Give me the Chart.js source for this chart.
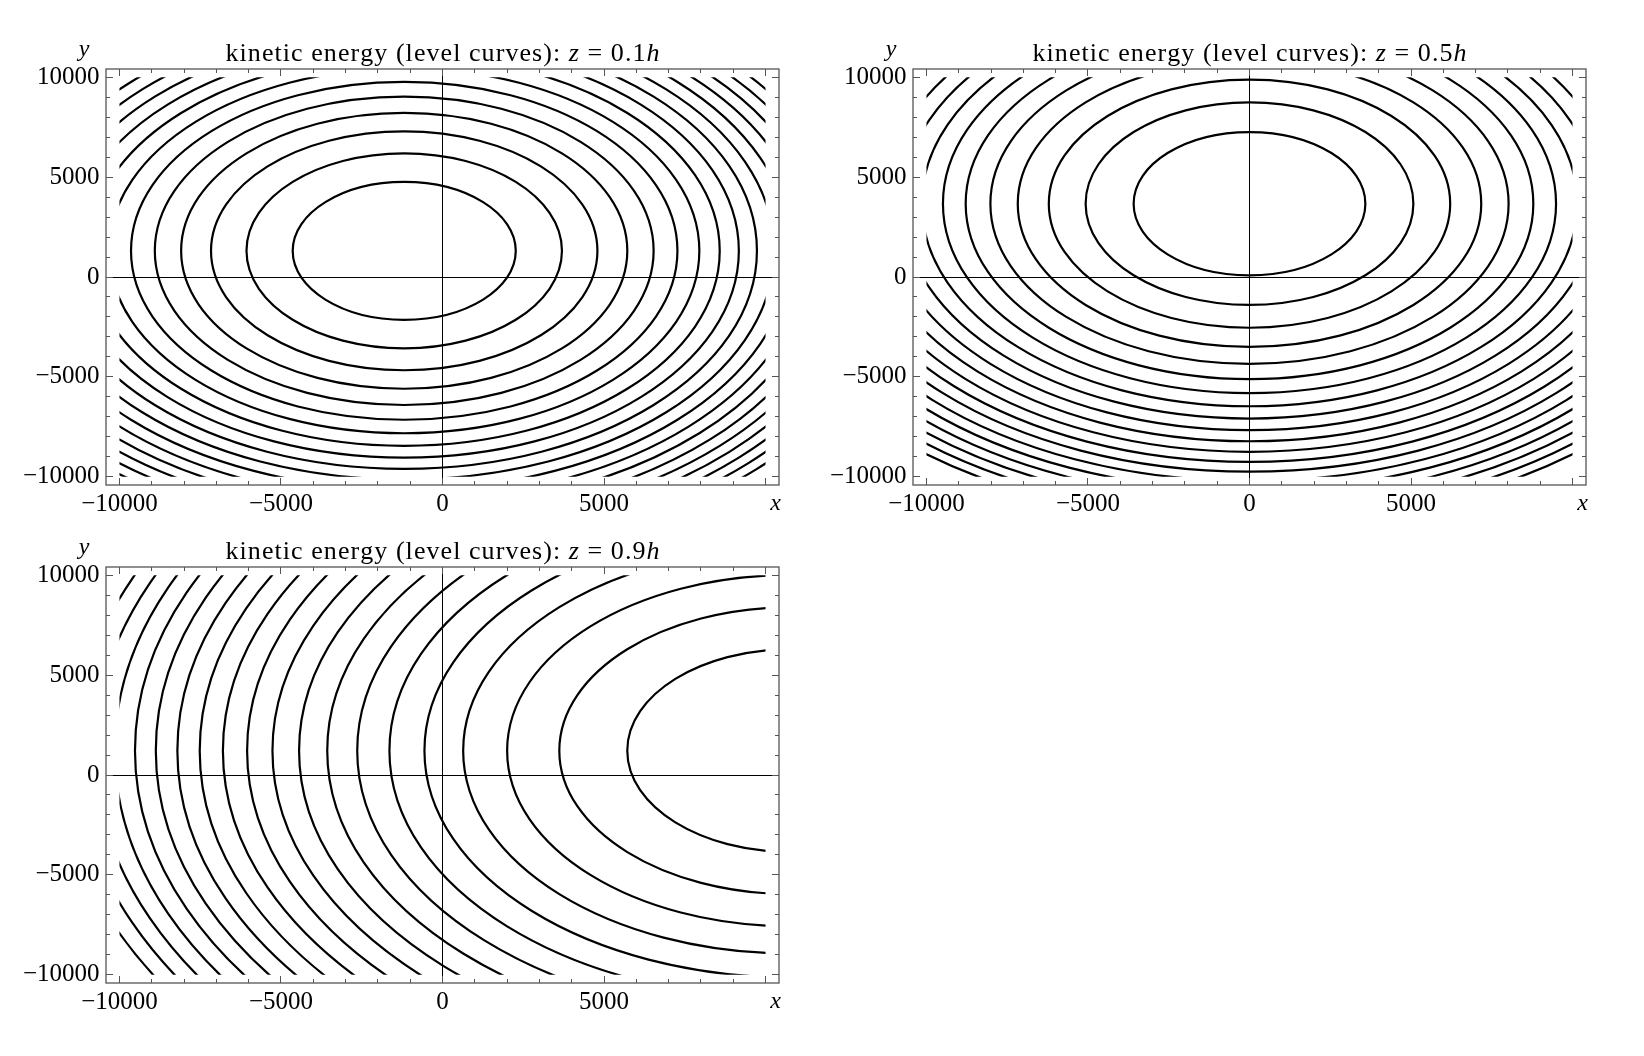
<!DOCTYPE html>
<html><head><meta charset="utf-8">
<script src="https://cdn.jsdelivr.net/npm/chart.js@4.4.1/dist/chart.umd.min.js"></script>
<style>
html,body{margin:0;padding:0;background:#fff;}
body{width:1644px;height:1056px;position:relative;overflow:hidden;}
.panel{position:absolute;width:822px;height:528px;}
canvas{display:block;}
</style></head><body>
<div class="panel" style="left:0;top:0"><canvas id="c1" width="822" height="528"></canvas></div>
<div class="panel" style="left:807px;top:0"><canvas id="c2" width="822" height="528"></canvas></div>
<div class="panel" style="left:0;top:498px"><canvas id="c3" width="822" height="528"></canvas></div>
<script>
// ---------- data ----------
const axisRange = [-10417, 10417];
const domain = [-10000, 10000];
const majorTicks = [-10000, -5000, 0, 5000, 10000];
const minorTicks = [-9000, -8000, -7000, -6000, -4000, -3000, -2000, -1000, 1000, 2000, 3000, 4000, 6000, 7000, 8000, 9000];
const xTickLabels = [-10000, -5000, 0, 5000];
const yTickLabels = [-10000, -5000, 0, 5000, 10000];
const zLevels = ['0.1', '0.5', '0.9'];

// each level curve: [right, top, left, bottom] points of the curve
const contoursZ01 = [
  [[2268,1310],[-1185,4763],[-4638,1310],[-1185,-2143]],
  [[3698,1310],[-1185,6193],[-6068,1310],[-1185,-3573]],
  [[4796,1310],[-1185,7291],[-7166,1310],[-1185,-4671]],
  [[5721,1310],[-1185,8216],[-8091,1310],[-1185,-5596]],
  [[6536,1310],[-1185,9031],[-8906,1310],[-1185,-6411]],
  [[7273,1310],[-1185,9768],[-9643,1310],[-1185,-7148]],
  [[7951,1310],[-1185,10446],[-10321,1310],[-1185,-7826]],
  [[8582,1310],[-1185,11077],[-10952,1310],[-1185,-8457]],
  [[9174,1310],[-1185,11669],[-11544,1310],[-1185,-9049]],
  [[9734,1310],[-1185,12229],[-12104,1310],[-1185,-9609]],
  [[10267,1310],[-1185,12762],[-12637,1310],[-1185,-10142]],
  [[10777,1310],[-1185,13272],[-13147,1310],[-1185,-10652]],
  [[11265,1310],[-1185,13760],[-13635,1310],[-1185,-11140]],
  [[11735,1310],[-1185,14230],[-14105,1310],[-1185,-11610]],
  [[12188,1310],[-1185,14683],[-14558,1310],[-1185,-12063]],
  [[12627,1310],[-1185,15122],[-14997,1310],[-1185,-12502]],
  [[13052,1310],[-1185,15547],[-15422,1310],[-1185,-12927]],
  [[13465,1310],[-1185,15960],[-15835,1310],[-1185,-13340]],
  [[13866,1310],[-1185,16361],[-16236,1310],[-1185,-13741]],
  [[14257,1310],[-1185,16752],[-16627,1310],[-1185,-14132]]
];
const contoursZ05 = [
  [[3587,3672],[0,7259],[-3587,3672],[0,85]],
  [[5073,3672],[0,8745],[-5073,3672],[0,-1401]],
  [[6213,3672],[0,9885],[-6213,3672],[0,-2541]],
  [[7174,3672],[0,10846],[-7174,3672],[0,-3502]],
  [[8021,3672],[0,11693],[-8021,3672],[0,-4349]],
  [[8786,3672],[0,12458],[-8786,3672],[0,-5114]],
  [[9490,3672],[0,13162],[-9490,3672],[0,-5818]],
  [[10146,3672],[0,13818],[-10146,3672],[0,-6474]],
  [[10761,3672],[0,14433],[-10761,3672],[0,-7089]],
  [[11343,3672],[0,15015],[-11343,3672],[0,-7671]],
  [[11897,3672],[0,15569],[-11897,3672],[0,-8225]],
  [[12426,3672],[0,16098],[-12426,3672],[0,-8754]],
  [[12933,3672],[0,16605],[-12933,3672],[0,-9261]],
  [[13421,3672],[0,17093],[-13421,3672],[0,-9749]],
  [[13892,3672],[0,17564],[-13892,3672],[0,-10220]],
  [[14348,3672],[0,18020],[-14348,3672],[0,-10676]],
  [[14790,3672],[0,18462],[-14790,3672],[0,-11118]],
  [[15218,3672],[0,18890],[-15218,3672],[0,-11546]],
  [[15635,3672],[0,19307],[-15635,3672],[0,-11963]],
  [[16042,3672],[0,19714],[-16042,3672],[0,-12370]]
];
const contoursZ09 = [
  [[15880,1220],[10800,6300],[5720,1220],[10800,-3860]],
  [[17984,1220],[10800,8404],[3616,1220],[10800,-5964]],
  [[19599,1220],[10800,10019],[2001,1220],[10800,-7579]],
  [[20960,1220],[10800,11380],[640,1220],[10800,-8940]],
  [[22159,1220],[10800,12579],[-559,1220],[10800,-10139]],
  [[23243,1220],[10800,13663],[-1643,1220],[10800,-11223]],
  [[24240,1220],[10800,14660],[-2640,1220],[10800,-12220]],
  [[25168,1220],[10800,15588],[-3568,1220],[10800,-13148]],
  [[26040,1220],[10800,16460],[-4440,1220],[10800,-14020]],
  [[26864,1220],[10800,17284],[-5264,1220],[10800,-14844]],
  [[27649,1220],[10800,18069],[-6049,1220],[10800,-15629]],
  [[28398,1220],[10800,18818],[-6798,1220],[10800,-16378]],
  [[29116,1220],[10800,19536],[-7516,1220],[10800,-17096]],
  [[29808,1220],[10800,20228],[-8208,1220],[10800,-17788]],
  [[30475,1220],[10800,20895],[-8875,1220],[10800,-18455]],
  [[31120,1220],[10800,21540],[-9520,1220],[10800,-19100]],
  [[31745,1220],[10800,22165],[-10145,1220],[10800,-19725]],
  [[32353,1220],[10800,22773],[-10753,1220],[10800,-20333]],
  [[32943,1220],[10800,23363],[-11343,1220],[10800,-20923]],
  [[33518,1220],[10800,23938],[-11918,1220],[10800,-21498]]
];

// ---------- styling ----------
const FONT = "'Liberation Serif','Times New Roman',serif";
const FRAME = '#555';
const HIDDEN = 'rgba(0,0,0,0)';
function crisp(v) { return Math.round(v - 0.5) + 0.5; }
function fmt(v) { return v < 0 ? '\u2212' + (-v) : String(v); }

function drawSpaced(ctx, segs, cx, baseline, size, targetW) {
  const chars = [];
  segs.forEach(([t, it]) => { for (const ch of t) chars.push([ch, it]); });
  const fN = size + 'px ' + FONT, fI = 'italic ' + size + 'px ' + FONT;
  let w = 0;
  const ws = chars.map(([ch, it]) => { ctx.font = it ? fI : fN; const m = ctx.measureText(ch).width; w += m; return m; });
  const extra = targetW ? (targetW - w) / (chars.length - 1) : 0;
  const total = targetW || w;
  let xx = cx - total / 2;
  ctx.textBaseline = 'alphabetic'; ctx.textAlign = 'left'; ctx.fillStyle = '#000';
  chars.forEach(([ch, it], i) => { ctx.font = it ? fI : fN; ctx.fillText(ch, xx, baseline); xx += ws[i] + extra; });
}

const decor = {
  id: 'decor',
  beforeDatasetsDraw(chart) {
    const {ctx, chartArea: a, scales: {x, y}} = chart;
    ctx.save();
    ctx.strokeStyle = '#000'; ctx.lineWidth = 1;
    const x0 = crisp(x.getPixelForValue(0)), y0 = crisp(y.getPixelForValue(0));
    ctx.beginPath();
    ctx.moveTo(x0, a.top); ctx.lineTo(x0, a.bottom);
    ctx.moveTo(a.left, y0); ctx.lineTo(a.right, y0);
    ctx.stroke();
    ctx.restore();
  },
  beforeDatasetDraw(chart) {
    const {ctx, scales: {x, y}} = chart;
    const l = x.getPixelForValue(domain[0]), r = x.getPixelForValue(domain[1]);
    const t = y.getPixelForValue(domain[1]), b = y.getPixelForValue(domain[0]);
    ctx.save(); ctx.beginPath(); ctx.rect(l, t, r - l, b - t); ctx.clip();
  },
  afterDatasetDraw(chart) { chart.ctx.restore(); },
  afterDraw(chart, args, opts) {
    const {ctx, chartArea: a, scales: {x, y}} = chart;
    ctx.save();
    ctx.strokeStyle = FRAME; ctx.lineWidth = 1;
    ctx.beginPath();
    const tick = (v, len) => {
      const px = crisp(x.getPixelForValue(v)), py = crisp(y.getPixelForValue(v));
      ctx.moveTo(px, a.bottom); ctx.lineTo(px, a.bottom - len);
      ctx.moveTo(px, a.top); ctx.lineTo(px, a.top + len);
      ctx.moveTo(a.left, py); ctx.lineTo(a.left + len, py);
      ctx.moveTo(a.right, py); ctx.lineTo(a.right - len, py);
    };
    majorTicks.forEach(v => tick(v, 7));
    minorTicks.forEach(v => tick(v, 4));
    ctx.stroke();
    ctx.lineWidth = 1.3;
    ctx.strokeRect(a.left, a.top, a.right - a.left, a.bottom - a.top);
    // title
    drawSpaced(ctx, [['kinetic energy (level curves): ', false], ['z', true], [' = ' + opts.level, false], ['h', true]],
      (a.left + a.right) / 2, a.top - 8, 26, 434);
    // axis labels
    ctx.font = 'italic 24px ' + FONT; ctx.fillStyle = '#000'; ctx.textAlign = 'center'; ctx.textBaseline = 'alphabetic';
    ctx.fillText('y', a.left - 22, a.top - 13);
    ctx.fillText('x', a.right - 3.5, a.bottom + 25);
    ctx.restore();
  }
};

function makePanel(id, curves, level) {
  const datasets = curves.map(c => {
    const [R, T, L, B] = c;
    return {
      data: [B, R, T, L, B, R, T].map(p => ({x: p[0], y: p[1]})),
      showLine: true, fill: false,
      borderColor: '#000', borderWidth: 2.2,
      pointRadius: 0, pointHoverRadius: 0, pointHitRadius: 0,
      tension: 0.5523, capBezierPoints: false,
      segment: { borderColor: ctx => (ctx.p0DataIndex === 0 || ctx.p0DataIndex === 5) ? HIDDEN : undefined }
    };
  });
  new Chart(document.getElementById(id), {
    type: 'scatter',
    data: { datasets },
    plugins: [decor],
    options: {
      responsive: false, animation: false, events: [],
      layout: { padding: { left: 0, top: 69, right: 43, bottom: 0 }, autoPadding: false },
      elements: { line: { capBezierPoints: false } },
      plugins: { legend: { display: false }, tooltip: { enabled: false }, title: { display: false }, decor: { level } },
      scales: {
        x: {
          type: 'linear', position: 'bottom', min: axisRange[0], max: axisRange[1],
          afterBuildTicks: s => { s.ticks = xTickLabels.map(v => ({ value: v })); },
          afterFit: s => { s.height = 43; },
          grid: { display: false, drawTicks: false }, border: { display: false },
          ticks: { font: { family: FONT, size: 25 }, color: '#000', padding: 4, maxRotation: 0, autoSkip: false, callback: v => fmt(v) }
        },
        y: {
          type: 'linear', position: 'left', min: axisRange[0], max: axisRange[1],
          afterBuildTicks: s => { s.ticks = yTickLabels.map(v => ({ value: v })); },
          afterFit: s => { s.width = 106; },
          grid: { display: false, drawTicks: false }, border: { display: false },
          ticks: { font: { family: FONT, size: 25 }, color: '#000', padding: 6.5, autoSkip: false, callback: v => fmt(v) }
        }
      }
    }
  });
}

makePanel('c1', contoursZ01, zLevels[0]);
makePanel('c2', contoursZ05, zLevels[1]);
makePanel('c3', contoursZ09, zLevels[2]);
</script>
</body></html>
